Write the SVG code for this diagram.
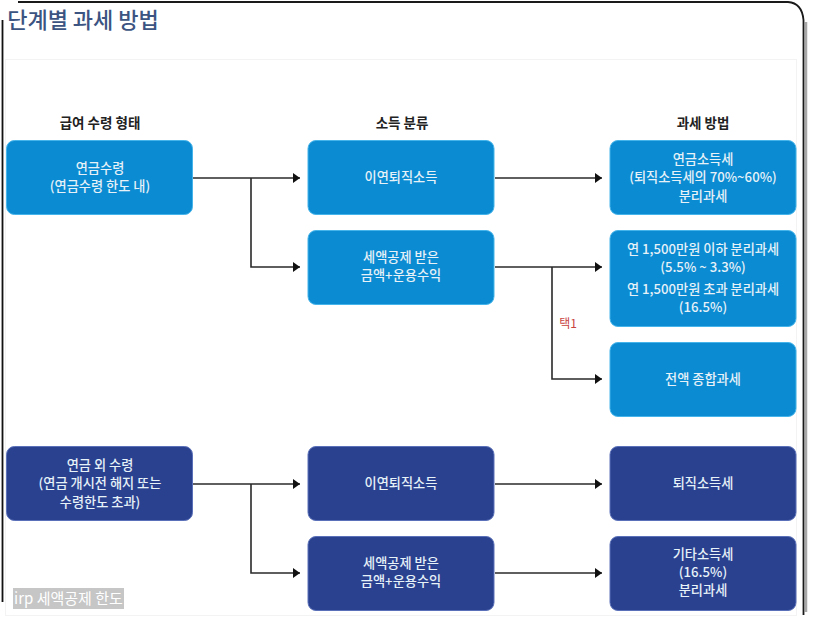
<svg xmlns="http://www.w3.org/2000/svg" width="814" height="621" viewBox="0 0 814 621">
<defs>
<marker id="arrow" markerUnits="userSpaceOnUse" markerWidth="8" markerHeight="10" refX="7" refY="5" orient="auto"><path d="M0 0L7 5L0 10Z" fill="#111"/></marker>
</defs>
<style>
text{font-family:"Noto Sans CJK KR","Noto Sans",sans-serif;text-anchor:middle}
.t{font-size:13.200px;fill:#e6f1f8;font-weight:500}
.h{font-size:13.500px;fill:#222;font-weight:700}
.b{fill:#0a8bd2;stroke:#45b4ea;stroke-width:1}
.n{fill:#2a4190;stroke:#5a70b8;stroke-width:1}
.c{fill:none;stroke:#2a2a2a;stroke-width:1.600}
</style>
<rect width="814" height="621" fill="#fff"/>
<path d="M806 22V612" stroke="#a8a8a8" stroke-width="2.500" fill="none"/>
<path d="M18 2H788Q802 3 803.500 20V615" fill="none" stroke="#1a1a1a" stroke-width="1.800"/>
<path d="M2.500 20V602" stroke="#111" stroke-width="1.800" fill="none"/>
<rect x="5.500" y="59.500" width="791" height="556" fill="#fff" stroke="#f3f3f3"/>
<text x="83" y="28" style="font-size:22px;font-weight:500;fill:#3b5482">단계별 과세 방법</text>
<text x="100" y="128" class="h">급여 수령 형태</text>
<text x="402" y="128" class="h">소득 분류</text>
<text x="703" y="128" class="h">과세 방법</text>
<g id="connectors">
<path class="c" d="M193 178H300" marker-end="url(#arrow)"/>
<path class="c" d="M251 178V267H300" marker-end="url(#arrow)"/>
<path class="c" d="M495 178H602" marker-end="url(#arrow)"/>
<path class="c" d="M495 267H602" marker-end="url(#arrow)"/>
<path class="c" d="M552 267V379H602" marker-end="url(#arrow)"/>
<path class="c" d="M193 484H300" marker-end="url(#arrow)"/>
<path class="c" d="M251 484V573H300" marker-end="url(#arrow)"/>
<path class="c" d="M495 484H602" marker-end="url(#arrow)"/>
<path class="c" d="M495 573H602" marker-end="url(#arrow)"/>
</g>
<text x="568" y="328" style="font-size:12px;fill:#c8443f">택1</text>
<g id="n1"><rect class="b" x="6.500" y="140.500" width="186" height="74" rx="8"/><text class="t"><tspan x="100" y="173">연금수령</tspan><tspan x="100" y="191">(연금수령 한도 내)</tspan></text></g>
<g id="n2"><rect class="b" x="308" y="140.500" width="186" height="74" rx="8"/><text class="t" x="401" y="182">이연퇴직소득</text></g>
<g id="n3"><rect class="b" x="610" y="140.500" width="186" height="74" rx="8"/><text class="t"><tspan x="703" y="164">연금소득세</tspan><tspan x="703" y="182">(퇴직소득세의 70%~60%)</tspan><tspan x="703" y="201">분리과세</tspan></text></g>
<g id="n4"><rect class="b" x="308" y="230.500" width="186" height="74" rx="8"/><text class="t"><tspan x="401" y="262">세액공제 받은</tspan><tspan x="401" y="280">금액+운용수익</tspan></text></g>
<g id="n5"><rect class="b" x="610" y="230.500" width="186" height="96" rx="8"/><text class="t"><tspan x="703" y="254">연 1,500만원 이하 분리과세</tspan><tspan x="703" y="272">(5.5% ~ 3.3%)</tspan><tspan x="703" y="294">연 1,500만원 초과 분리과세</tspan><tspan x="703" y="312">(16.5%)</tspan></text></g>
<g id="n6"><rect class="b" x="610" y="342.500" width="186" height="74" rx="8"/><text class="t" x="703" y="384">전액 종합과세</text></g>
<g id="n7"><rect class="n" x="6.500" y="446.500" width="186" height="74" rx="8"/><text class="t"><tspan x="100" y="470">연금 외 수령</tspan><tspan x="100" y="488">(연금 개시전 해지 또는</tspan><tspan x="100" y="507">수령한도 초과)</tspan></text></g>
<g id="n8"><rect class="n" x="308" y="446.500" width="186" height="74" rx="8"/><text class="t" x="401" y="488">이연퇴직소득</text></g>
<g id="n9"><rect class="n" x="610" y="446.500" width="186" height="74" rx="8"/><text class="t" x="703" y="488">퇴직소득세</text></g>
<g id="n10"><rect class="n" x="308" y="536.500" width="186" height="74" rx="8"/><text class="t"><tspan x="401" y="568">세액공제 받은</tspan><tspan x="401" y="586">금액+운용수익</tspan></text></g>
<g id="n11"><rect class="n" x="610" y="536.500" width="186" height="74" rx="8"/><text class="t"><tspan x="703" y="559">기타소득세</tspan><tspan x="703" y="577">(16.5%)</tspan><tspan x="703" y="595">분리과세</tspan></text></g>
<rect x="13" y="588" width="111" height="21" fill="#c6c6c6"/>
<text x="68.500" y="603.500" style="font-size:15px;fill:#fff">irp 세액공제 한도</text>
</svg>
